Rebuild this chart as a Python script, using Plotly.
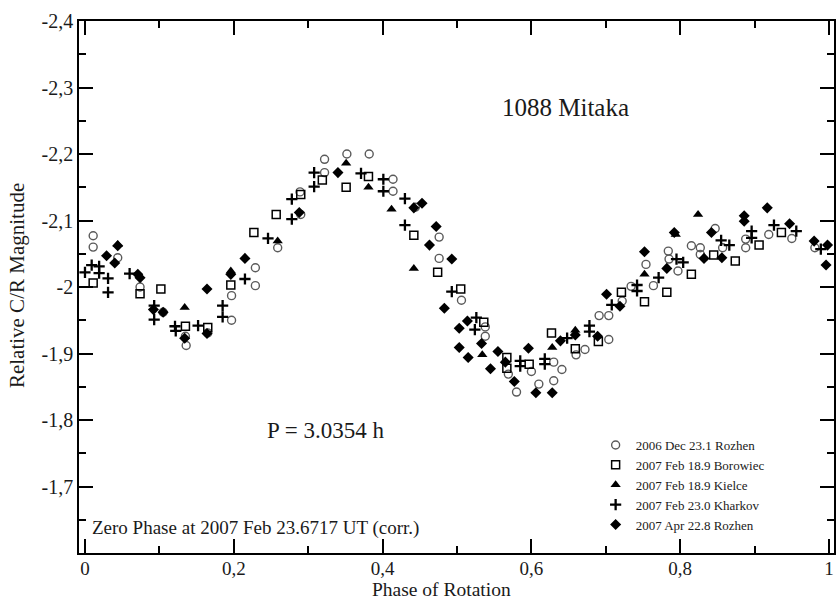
import plotly.graph_objects as go

# ---- data (phase, relative magnitude) ----
rozhen06_x = [0.011, 0.011, 0.044, 0.074, 0.105, 0.135, 0.136, 0.165, 0.197, 0.197, 0.229, 0.229, 0.259, 0.289,
              0.290, 0.322, 0.322, 0.352, 0.382, 0.414, 0.414, 0.444, 0.476, 0.476, 0.506, 0.538, 0.538, 0.569,
              0.580, 0.600, 0.610, 0.630, 0.630, 0.641, 0.660, 0.672, 0.691, 0.704, 0.704, 0.722, 0.734, 0.754,
              0.764, 0.784, 0.785, 0.797, 0.815, 0.827, 0.827, 0.847, 0.857, 0.888, 0.888, 0.919, 0.950, 0.981]
rozhen06_y = [-2.077, -2.060, -2.044, -2.000, -1.962, -1.926, -1.912, -1.931, -1.987, -1.950, -2.029, -2.002, -2.059, -2.143,
              -2.109, -2.192, -2.172, -2.200, -2.200, -2.162, -2.144, -2.120, -2.075, -2.043, -1.980, -1.940, -1.926, -1.869,
              -1.842, -1.873, -1.854, -1.887, -1.859, -1.876, -1.898, -1.906, -1.957, -1.957, -1.921, -1.979, -2.001, -2.034,
              -2.002, -2.054, -2.042, -2.024, -2.062, -2.059, -2.049, -2.088, -2.059, -2.072, -2.059, -2.079, -2.073, -2.059]

borowiec_x = [0.011, 0.074, 0.102, 0.135, 0.165, 0.196, 0.227, 0.257, 0.290, 0.319, 0.351, 0.381, 0.442, 0.474, 0.505,
              0.536, 0.567, 0.567, 0.597, 0.627, 0.659, 0.690, 0.721, 0.752, 0.782, 0.815, 0.845, 0.874, 0.906, 0.936]
borowiec_y = [-2.006, -1.990, -1.997, -1.941, -1.939, -2.003, -2.082, -2.109, -2.139, -2.161, -2.150, -2.166, -2.078, -2.022, -1.997,
              -1.947, -1.894, -1.878, -1.884, -1.931, -1.907, -1.918, -1.992, -1.978, -1.992, -2.019, -2.048, -2.039, -2.063, -2.082]

kielce_x = [0.044, 0.134, 0.196, 0.259, 0.351, 0.381, 0.412, 0.442, 0.534, 0.628, 0.659, 0.752, 0.794, 0.824]
kielce_y = [-2.064, -1.969, -2.024, -2.069, -2.186, -2.150, -2.117, -2.028, -1.898, -1.909, -1.935, -2.019, -2.079, -2.109]

kharkov_x = [0.000, 0.009, 0.019, 0.019, 0.031, 0.031, 0.060, 0.093, 0.093, 0.121, 0.122, 0.152, 0.185, 0.185, 0.215, 0.246,
             0.278, 0.278, 0.308, 0.308, 0.371, 0.401, 0.401, 0.430, 0.430, 0.493, 0.526, 0.524, 0.585, 0.585, 0.618, 0.618,
             0.648, 0.678, 0.678, 0.708, 0.742, 0.742, 0.771, 0.795, 0.804, 0.855, 0.866, 0.896, 0.896, 0.926, 0.956, 0.989]
kharkov_y = [-2.022, -2.033, -2.031, -2.021, -2.013, -1.992, -2.020, -1.972, -1.951, -1.941, -1.934, -1.942, -1.972, -1.955, -2.012, -2.073,
             -2.102, -2.132, -2.151, -2.172, -2.171, -2.162, -2.144, -2.133, -2.093, -1.993, -1.954, -1.936, -1.889, -1.881, -1.892, -1.884,
             -1.923, -1.942, -1.933, -1.973, -2.003, -1.994, -2.014, -2.042, -2.037, -2.070, -2.063, -2.084, -2.074, -2.093, -2.084, -2.057]

rozhen07_x = [0.029, 0.040, 0.044, 0.071, 0.074, 0.092, 0.105, 0.134, 0.164, 0.164, 0.196, 0.215, 0.288, 0.340, 0.442, 0.453,
              0.472, 0.463, 0.493, 0.483, 0.514, 0.503, 0.533, 0.503, 0.515, 0.545, 0.555, 0.565, 0.577, 0.596, 0.606, 0.628,
              0.639, 0.659, 0.689, 0.701, 0.719, 0.752, 0.782, 0.792, 0.832, 0.842, 0.856, 0.886, 0.886, 0.917, 0.947, 0.980,
              0.998, 0.996]
rozhen07_y = [-2.047, -2.036, -2.062, -2.019, -2.014, -1.966, -1.962, -1.923, -1.997, -1.930, -2.019, -2.043, -2.112, -2.172, -2.119, -2.126,
              -2.091, -2.063, -2.042, -1.968, -1.949, -1.938, -1.915, -1.909, -1.894, -1.877, -1.903, -1.887, -1.858, -1.908, -1.841, -1.841,
              -1.919, -1.928, -1.926, -1.989, -1.971, -2.053, -2.028, -2.082, -2.043, -2.082, -2.044, -2.107, -2.099, -2.119, -2.095, -2.069,
              -2.063, -2.033]

series_names = ["2006 Dec 23.1 Rozhen", "2007 Feb 18.9 Borowiec", "2007 Feb 18.9 Kielce",
                "2007 Feb 23.0 Kharkov", "2007 Apr 22.8 Rozhen"]

x_tickvals = [0, 0.2, 0.4, 0.6, 0.8, 1.0]
x_ticktext = ["0", "0,2", "0,4", "0,6", "0,8", "1"]
y_tickvals = [-2.4, -2.3, -2.2, -2.1, -2.0, -1.9, -1.8, -1.7]
y_ticktext = ["-2,4", "-2,3", "-2,2", "-2,1", "-2", "-1,9", "-1,8", "-1,7"]

FONT = "Liberation Serif, Times New Roman, serif"
TXT = "#1a1a1a"

fig = go.Figure()
fig.add_trace(go.Scatter(x=rozhen06_x, y=rozhen06_y, mode="markers", name=series_names[0],
                         marker=dict(symbol="circle-open", size=8, color="#5a5a5a", line=dict(width=1.4))))
fig.add_trace(go.Scatter(x=borowiec_x, y=borowiec_y, mode="markers", name=series_names[1],
                         marker=dict(symbol="square-open", size=8, color="#000000", line=dict(width=1.5))))
fig.add_trace(go.Scatter(x=kielce_x, y=kielce_y, mode="markers", name=series_names[2],
                         marker=dict(symbol="triangle-up", size=9, color="#000000", line=dict(width=0))))
fig.add_trace(go.Scatter(x=kharkov_x, y=kharkov_y, mode="markers", name=series_names[3],
                         marker=dict(symbol="cross-thin-open", size=8, color="#000000", line=dict(width=2.3, color="#000000"))))
fig.add_trace(go.Scatter(x=rozhen07_x, y=rozhen07_y, mode="markers", name=series_names[4],
                         marker=dict(symbol="diamond", size=8.5, color="#000000", line=dict(width=0))))

axis_common = dict(showline=True, linecolor="#000000", linewidth=1.6, mirror="allticks",
                   ticks="inside", ticklen=14, tickwidth=1.6, tickcolor="#000000",
                   showgrid=False, zeroline=False,
                   tickfont=dict(family=FONT, size=20, color=TXT))

fig.update_xaxes(range=[-0.00804, 1.0067], tickvals=x_tickvals, ticktext=x_ticktext,
                 minor=dict(ticks="inside", ticklen=7, dtick=0.1, tick0=0, tickwidth=1.6, tickcolor="#000000"),
                 **axis_common)
fig.update_xaxes(tickfont=dict(family=FONT, size=19, color=TXT), ticklabelstandoff=-3)
fig.update_yaxes(range=[-1.6, -2.4], tickvals=y_tickvals, ticktext=y_ticktext,
                 minor=dict(ticks="inside", ticklen=7, dtick=0.05, tick0=-2.4, tickwidth=1.6, tickcolor="#000000"),
                 **axis_common)

annos = [
    dict(text="1088 Mitaka", x=0.6447, y=0.838, size=25),
    dict(text="P = 3.0354 h", x=0.3263, y=0.231, size=23),
]
for a in annos:
    fig.add_annotation(text=a["text"], x=a["x"], y=a["y"], xref="paper", yref="paper",
                       xanchor="center", yanchor="middle", showarrow=False, borderpad=0,
                       font=dict(family=FONT, size=a["size"], color=TXT))
fig.add_annotation(text="Phase of Rotation", x=0.4795, y=-47.5 / 532, xref="paper", yref="paper",
                   xanchor="center", yanchor="bottom", showarrow=False, borderpad=0,
                   font=dict(family=FONT, size=19.5, color=TXT))
fig.add_annotation(text="Zero Phase at 2007 Feb 23.6717 UT (corr.)", x=0.0145, y=0.047,
                   xref="paper", yref="paper", xanchor="left", yanchor="middle", showarrow=False,
                   font=dict(family=FONT, size=19, color=TXT))
fig.add_annotation(text="Relative C/R Magnitude", x=-0.0819, y=0.502, textangle=-90,
                   xref="paper", yref="paper", xanchor="center", yanchor="middle", showarrow=False,
                   font=dict(family=FONT, size=21, color=TXT))

fig.update_layout(
    width=836, height=601,
    margin=dict(l=79, r=0, t=21, b=48),
    paper_bgcolor="white", plot_bgcolor="white",
    showlegend=True,
    legend=dict(x=(597 - 79) / 757, y=(553 - 430) / 532, xanchor="left", yanchor="top",
                bgcolor="rgba(0,0,0,0)", borderwidth=0, tracegroupgap=0,
                font=dict(family=FONT, size=13, color=TXT), itemsizing="trace"),
)

fig.write_html("out.html")
